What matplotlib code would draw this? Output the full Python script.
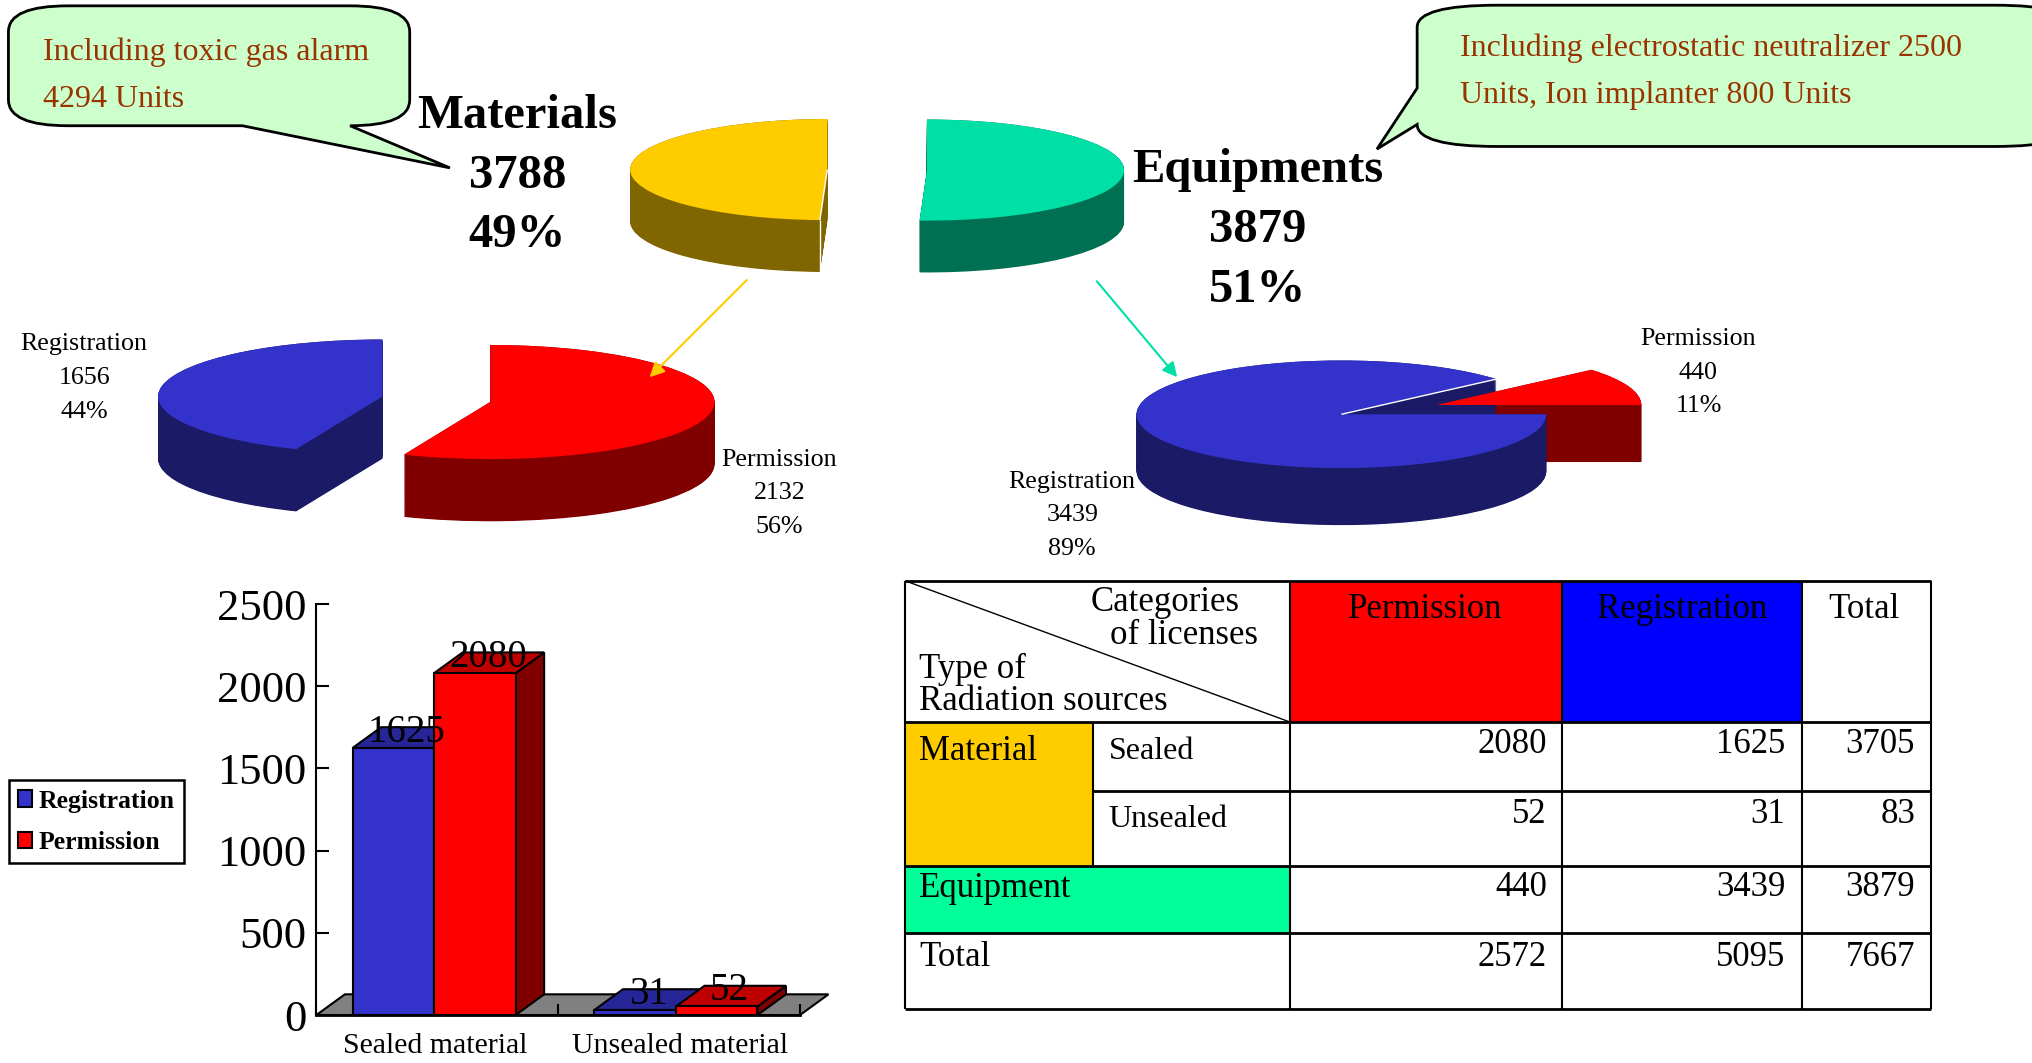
import numpy as np
import matplotlib
matplotlib.use("Agg")
import matplotlib.pyplot as plt
from matplotlib.path import Path
from matplotlib.patches import PathPatch, Rectangle

plt.rcParams['font.family'] = ['Liberation Serif', 'DejaVu Serif']
plt.rcParams['lines.solid_capstyle'] = 'butt'

# data
overall_names = ["Materials", "Equipments"]
overall_vals = [3788, 3879]
material_names = ["Registration", "Permission"]
material_vals = [1656, 2132]
equipment_names = ["Permission", "Registration"]
equipment_vals = [440, 3439]

bar_cats = ["Sealed material", "Unsealed material"]
bar_reg = [1625, 31]
bar_perm = [2080, 52]
y_ticks = [0, 500, 1000, 1500, 2000, 2500]

tbl_cols = ["Permission", "Registration", "Total"]
tbl_perm = [2080, 52, 440, 2572]
tbl_reg = [1625, 31, 3439, 5095]
tbl_total = [3705, 83, 3879, 7667]

# colours
BLUE, BLUE_D, BLUE_T = "#3333CC", "#1A1A66", "#262699"
RED, RED_D, RED_T = "#FF0000", "#800000", "#BF0000"
YEL, YEL_D = "#FFCC00", "#806600"
GRN, GRN_D = "#00E0A6", "#007052"
NOTE = "#993300"
W, H = 1568.0, 820.0   # layout units, the picture is 2033x1063
TXT = 2.5              # text sits a bit lower than va=center gives

fig = plt.figure(figsize=(20.33, 10.63), dpi=100)


def pie3d(cx, cy, rx, ry, depth, vals, cols, darks, start, expl, seam=None):
    L = 2.5
    ax = fig.add_axes([(cx - L*rx)/W, 1 - (cy + L*ry)/H, 2*L*rx/W, 2*L*ry/H])
    for d in np.linspace(depth, 0, int(depth*2)):
        side = ax.pie(vals, colors=darks, center=(0, -d/ry), explode=[expl]*2,
                      startangle=start)[0]
        # second slice stands in front of the first one
        for i, w in enumerate(side):
            w.set_zorder(1 + i)
    top = ax.pie(vals, colors=cols, explode=[expl]*2, startangle=start)[0]
    for w in top:
        w.set_zorder(5)
    if seam:
        w = top[seam[0]]
        a = np.radians(getattr(w, seam[1]))
        x0, y0 = w.center
        xe, ye = x0 + np.cos(a), y0 + np.sin(a)
        ax.plot([x0, xe], [y0, ye], color="white", lw=1, zorder=6)
        if seam[2]:
            ax.plot([xe, xe], [ye, ye - depth/ry], color=seam[3], lw=1, zorder=6)
    ax.set_aspect('auto')
    ax.set_xlim(-L, L)
    ax.set_ylim(-L, L)
    ax.patch.set_alpha(0)
    return ax


pie3d(676.5, 131, 152, 39, 40, overall_vals, [YEL, GRN], [YEL_D, GRN_D], 90, 0.253,
      seam=(0, 'theta2', True, "white"))
pie3d(336.5, 308, 173, 44, 48, material_vals, [BLUE, RED], [BLUE_D, RED_D], 90, 0.245,
      seam=None)
pie3d(1071.25, 316, 158, 41.5, 44, equipment_vals, [RED, BLUE], [RED_D, BLUE_D], 0, 0.2474,
      seam=(1, 'theta1', False, "white"))

# bar chart
ax = fig.add_axes([244/W, 1 - 783/H, (617 - 244)/W, (783 - 466)/H])
bw = 0.337
dx, dy = 0.118, 126
centres = [0.487, 1.487]
ax.set_xlim(0, 2)
ax.set_ylim(0, 2500)
ax.fill([0, 2, 2 + dx, dx], [0, 0, dy, dy], color="#808080", ec="black", lw=1.5,
        clip_on=False, zorder=1)


def bar3d(x, v, front, toper, side, name):
    ax.fill([x + bw, x + bw + dx, x + bw + dx, x + bw], [0, dy, v + dy, v],
            fc=side, ec="black", lw=1.5, clip_on=False, zorder=2)
    ax.fill([x, x + bw, x + bw + dx, x + dx], [v, v, v + dy, v + dy],
            fc=toper, ec="black", lw=1.5, clip_on=False, zorder=2)
    return ax.bar(x, v, bw, align='edge', color=front, ec="black", lw=1.5,
                  clip_on=False, zorder=3, label=name)


for i, c in enumerate(centres):
    bar3d(c - bw, bar_reg[i], BLUE, BLUE_T, BLUE_D, "Registration" if i == 0 else None)
    bar3d(c, bar_perm[i], RED, RED_T, RED_D, "Permission" if i == 0 else None)
    ax.text(c - bw/2 + dx*0.45, bar_reg[i] + dy*0.75, str(bar_reg[i]), fontsize=28,
            ha='center', va='center', zorder=5)
    ax.text(c + bw/2 + dx*0.45, bar_perm[i] + dy*0.75, str(bar_perm[i]), fontsize=28,
            ha='center', va='center', zorder=5)

for s in ['top', 'right']:
    ax.spines[s].set_visible(False)
ax.spines['left'].set_linewidth(1.5)
ax.spines['bottom'].set_linewidth(2)
ax.patch.set_alpha(0)
ax.set_yticks(y_ticks)
ax.tick_params(axis='y', direction='in', length=9, width=1.5, labelsize=32, pad=7)
ax.set_xticks([0, 1, 2], labels=["", "", ""])
ax.tick_params(axis='x', direction='in', length=8, width=1.5)
ax.set_xticks([centres[0] + 0.005, centres[1] + 0.017], labels=bar_cats, minor=True)
ax.tick_params(axis='x', which='minor', length=0, labelsize=21.5, pad=13)

leg = ax.legend(loc='lower left', bbox_to_anchor=(7/W, 1 - 666/H, 135/W, 65/H),
                bbox_transform=fig.transFigure, mode='expand', fancybox=False,
                edgecolor="black", framealpha=1, borderaxespad=0, borderpad=0.36,
                prop={'weight': 'bold', 'size': 18.5}, handlelength=0.55,
                handleheight=0.62, handletextpad=0.25, labelspacing=0.72)
leg.get_frame().set_linewidth(1.8)

# overlay for notes, texts and table, in layout units
ov = fig.add_axes([0, 0, 1, 1], zorder=20)
ov.set_xlim(0, W)
ov.set_ylim(H, 0)
ov.axis('off')
ov.patch.set_alpha(0)


def stacked(x, y0, step, lines, **kw):
    for i, t in enumerate(lines):
        ov.text(x, y0 + i*step + TXT, t, va='center', **kw)


def pct(v, vals):
    return f"{round(100*v/sum(vals))}%"


def callout(l, r, t, b, rx, ry, tail):
    verts = [(l + rx, t), (r - rx, t), (r, t), (r, t + ry), (r, b - ry), (r, b), (r - rx, b)]
    codes = [Path.MOVETO, Path.LINETO, Path.CURVE3, Path.CURVE3, Path.LINETO, Path.CURVE3, Path.CURVE3]
    if tail[0] == 'bottom':
        verts += [(tail[2], b), tail[3], (tail[1], b)]
        codes += [Path.LINETO]*3
    verts += [(l + rx, b), (l, b), (l, b - ry)]
    codes += [Path.LINETO, Path.CURVE3, Path.CURVE3]
    if tail[0] == 'left':
        verts += [(l, tail[2]), tail[3], (l, tail[1])]
        codes += [Path.LINETO]*3
    verts += [(l, t + ry), (l, t), (l + rx, t), (l + rx, t)]
    codes += [Path.LINETO, Path.CURVE3, Path.CURVE3, Path.CLOSEPOLY]
    ov.add_patch(PathPatch(Path(verts, codes), fc="#CCFFCC", ec="black", lw=2, clip_on=True))


callout(6.5, 316, 4.5, 97, 46, 20, ('bottom', 187, 270, (347, 129.5)))
callout(1093, 1600, 4, 113, 62, 17, ('left', 68, 96, (1062, 115)))
stacked(33, 38, 36.5, ["Including toxic gas alarm", "4294 Units"], fontsize=23, color=NOTE)
stacked(1126, 35, 36.5, ["Including electrostatic neutralizer 2500", "Units, Ion implanter 800 Units"],
        fontsize=23, color=NOTE)

big = dict(fontsize=35, fontweight='bold', ha='center')
stacked(399, 87, 46, [overall_names[0], str(overall_vals[0]), pct(overall_vals[0], overall_vals)], **big)
stacked(970, 129, 46, [overall_names[1], str(overall_vals[1]), pct(overall_vals[1], overall_vals)], **big)

small = dict(fontsize=18.7, ha='center')
stacked(65, 263, 26, [material_names[0], str(material_vals[0]), pct(material_vals[0], material_vals)], **small)
stacked(601, 352, 26, [material_names[1], str(material_vals[1]), pct(material_vals[1], material_vals)], **small)
stacked(1310, 259, 26, [equipment_names[0], str(equipment_vals[0]), pct(equipment_vals[0], equipment_vals)], **small)
stacked(827, 369, 26, [equipment_names[1], str(equipment_vals[1]), pct(equipment_vals[1], equipment_vals)], **small)

ov.annotate("", xy=(501, 291), xytext=(576, 216),
            arrowprops=dict(arrowstyle='-|>', color=YEL, lw=1.5, mutation_scale=22, shrinkA=0, shrinkB=0))
ov.annotate("", xy=(908, 291), xytext=(846, 217),
            arrowprops=dict(arrowstyle='-|>', color=GRN, lw=1.5, mutation_scale=22, shrinkA=0, shrinkB=0))

# table
xs = [698, 843, 995, 1205, 1390, 1489]
ys = [448, 557, 610, 668, 720, 778]
for x0, x1, y0, y1, c in [(xs[2], xs[3], ys[0], ys[1], "#FF0000"),
                          (xs[3], xs[4], ys[0], ys[1], "#0000FF"),
                          (xs[0], xs[1], ys[1], ys[3], YEL),
                          (xs[0], xs[2], ys[3], ys[4], "#00FF99")]:
    ov.add_patch(Rectangle((x0, y0), x1 - x0, y1 - y0, fc=c, ec='none'))
for y in [ys[0], ys[1], ys[3], ys[4], ys[5]]:
    ov.plot([xs[0], xs[5]], [y, y], color="black", lw=2)
ov.plot([xs[1], xs[5]], [ys[2], ys[2]], color="black", lw=2)
for x in [xs[0], xs[2], xs[3], xs[4], xs[5]]:
    ov.plot([x, x], [ys[0], ys[5]], color="black", lw=1.5)
ov.plot([xs[1], xs[1]], [ys[1], ys[3]], color="black", lw=1.5)
ov.plot([xs[0], xs[2]], [ys[0], ys[1]], color="black", lw=1)

tk = dict(fontsize=25, va='center')
ov.text(899, 462 + TXT, "Categories", ha='center', **tk)
ov.text(913, 488 + TXT, "of licenses", ha='center', **tk)
ov.text(709, 514 + TXT, "Type of", ha='left', **tk)
ov.text(709, 539 + TXT, "Radiation sources", ha='left', **tk)
for cx, name in zip([1099, 1297, 1438], tbl_cols):
    ov.text(cx, 468 + TXT, name, ha='center', **tk)
ov.text(709, 577 + TXT, "Material", ha='left', **tk)
ov.text(855, 577 + TXT, "Sealed", ha='left', fontsize=23, va='center')
ov.text(855, 630 + TXT, "Unsealed", ha='left', fontsize=23, va='center')
ov.text(709, 683 + TXT, "Equipment", ha='left', **tk)
ov.text(709, 736 + TXT, "Total", ha='left', **tk)
for y, a, b, c in zip([572, 626, 682, 736], tbl_perm, tbl_reg, tbl_total):
    ov.text(1193, y + TXT, str(a), ha='right', **tk)
    ov.text(1377, y + TXT, str(b), ha='right', **tk)
    ov.text(1477, y + TXT, str(c), ha='right', **tk)

fig.savefig("out.png", dpi=100, facecolor="white")
